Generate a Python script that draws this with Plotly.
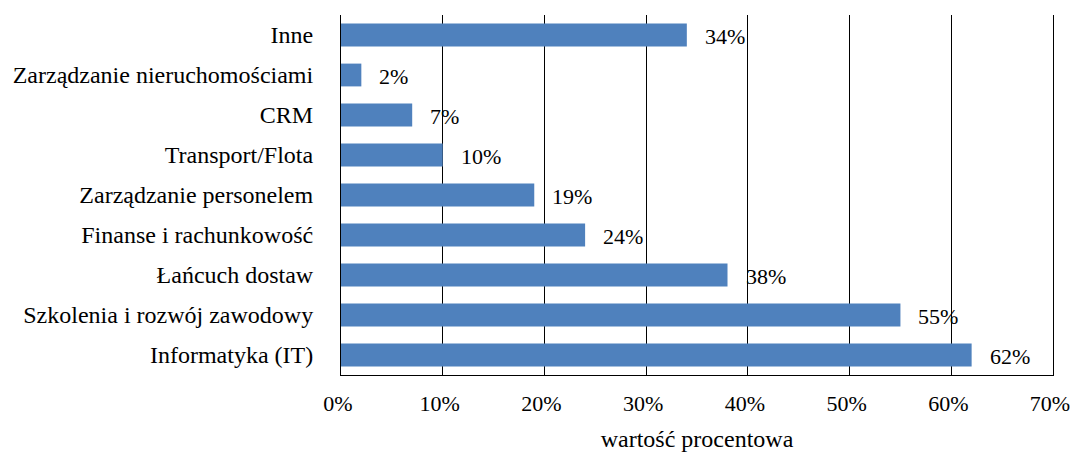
import plotly.graph_objects as go

# Categories listed bottom-to-top as drawn on the category axis
categories = [
    "Informatyka (IT)",
    "Szkolenia i rozwój zawodowy",
    "Łańcuch dostaw",
    "Finanse i rachunkowość",
    "Zarządzanie personelem",
    "Transport/Flota",
    "CRM",
    "Zarządzanie nieruchomościami",
    "Inne",
]
values = [62, 55, 38, 24, 19, 10, 7, 2, 34]
tick_values = [0, 10, 20, 30, 40, 50, 60, 70]
tick_labels = [f"{v}%" for v in tick_values]
axis_title = "wartość procentowa"

FONT = "Liberation Serif"
FONT_SIZE = 24
NUM_SIZE = 22
BAR_COLOR = "#4F81BD"

fig = go.Figure(
    go.Bar(
        x=values,
        y=categories,
        orientation="h",
        marker=dict(color=BAR_COLOR, line=dict(width=0)),
        width=0.57,
        hoverinfo="skip",
    )
)

# Value labels sit a little to the right of each bar end
for cat, val in zip(categories, values):
    fig.add_annotation(
        x=val, y=cat, text=f"{val}%", showarrow=False,
        xanchor="left", yanchor="middle", xshift=16, yshift=-1,
        font=dict(family=FONT, size=NUM_SIZE, color="#000000"),
    )

fig.update_layout(
    width=1072, height=452,
    margin=dict(l=341, r=19, t=15, b=77, autoexpand=False),
    paper_bgcolor="white", plot_bgcolor="white",
    font=dict(family=FONT, size=FONT_SIZE, color="#000000"),
    showlegend=False,
)

fig.update_xaxes(
    range=[0, 70],
    tickvals=tick_values, ticktext=tick_labels,
    tickfont=dict(family=FONT, size=NUM_SIZE),
    showgrid=True, gridcolor="#000000", gridwidth=1,
    showline=True, linecolor="#000000", linewidth=1,
    zeroline=False, ticks="",
    ticklabelstandoff=9,
    ticklabelshift=-3,
    ticklabeloverflow="allow",
    automargin=False,
    title=dict(text=axis_title, standoff=20, font=dict(family=FONT, size=FONT_SIZE)),
    fixedrange=True,
)
fig.update_yaxes(
    showgrid=False, showline=True, mirror=True,
    linecolor="#000000", linewidth=1,
    ticks="", ticklabelstandoff=22, zeroline=False,
    automargin=False,
    range=[-0.5, len(categories) - 0.5],
    fixedrange=True,
)

fig.write_html("out.html")
